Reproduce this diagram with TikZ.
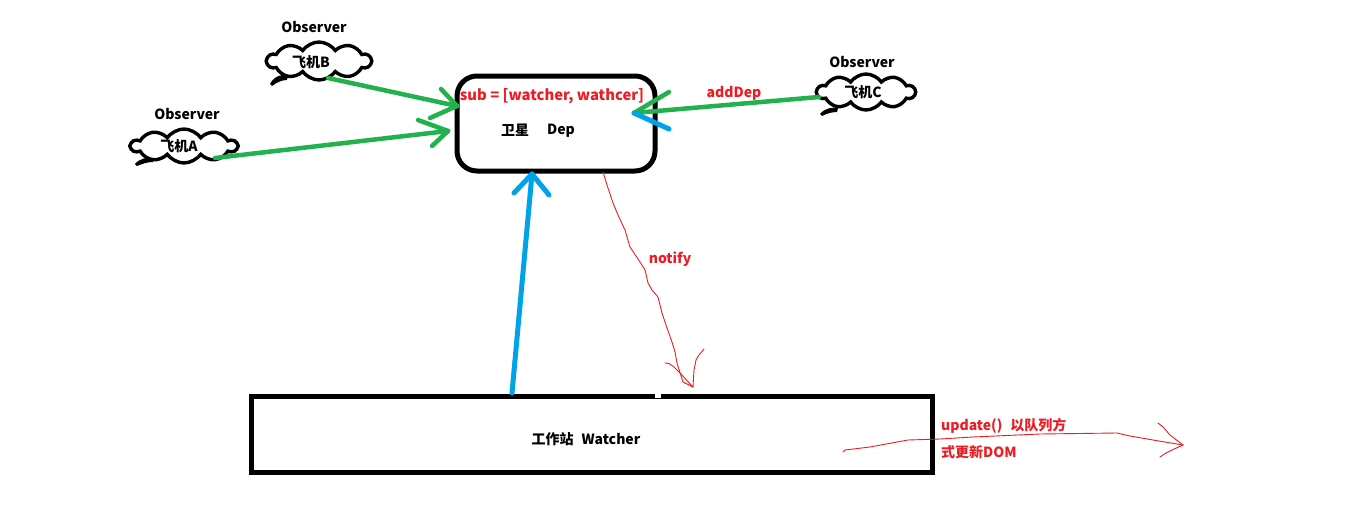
\documentclass[tikz,border=0pt]{standalone}
\usepackage{fontspec}
\setmainfont{Noto Sans CJK SC}
\usetikzlibrary{shapes.symbols,calc}
\definecolor{pgreen}{HTML}{22B14C}
\definecolor{pblue}{HTML}{00A2E8}
\definecolor{pred}{HTML}{ED1C24}
\tikzset{
  lbl/.style={font=\fontsize{14}{16}\selectfont\bfseries, inner sep=0pt},
  rlbl/.style={lbl, text=pred},
  cloudbox/.style={cloud, cloud puffs=10, cloud puff arc=110, aspect=2.6, draw=black, line width=3.4pt, inner sep=0pt},
  box/.style={draw=black, line width=5pt, inner sep=0pt},
  garrow/.style={draw=pgreen, line width=4.5pt, line cap=round},
  barrow/.style={draw=pblue, line width=5pt, line cap=round},
  thinred/.style={draw=pred, line width=0.9pt, line cap=round, line join=round}
}
\begin{document}
\begin{tikzpicture}[x=1pt,y=-1pt]
\useasboundingbox[fill=white] (0,0) rectangle (1360,514);

% boxes
\node[box, rounded corners=20pt, minimum width=198pt, minimum height=95pt] (dep) at (556,123.5) {};
\node[box, minimum width=681pt, minimum height=76pt] (watcher) at (591.5,434) {};
\fill[white] (655,392) rectangle (661,398);

% texts in boxes
\node[rlbl, font=\fontsize{14.8}{16}\selectfont\bfseries] (sub) at (552,96) {sub = [watcher, wathcer]};
\node[lbl] (sat) at (515,130) {卫星};
\node[lbl] (deplbl) at (561,131) {Dep};
\node[lbl] (wlbl) at (586,439) {工作站\hspace{8pt}Watcher};

% clouds
\node[cloudbox, minimum width=104pt, minimum height=38pt] (cb) at (319,61) {};
\node[cloudbox, minimum width=106pt, minimum height=34pt] (ca) at (184,146) {};
\node[cloudbox, minimum width=98pt, minimum height=36pt] (cc) at (866,92) {};
\node[lbl] (tb) at (311,62) {飞机B};
\node[lbl] (ta) at (179,146) {飞机A};
\node[lbl] (tc) at (863,92) {飞机C};
\fill[black] (270,84) .. controls (274,76) and (282,74) .. (288,75) -- (287,80) .. controls (281,80) and (276,83) .. (272,86) -- cycle;
\fill[black] (135,164) .. controls (140,158) and (148,157) .. (154,158) -- (153,162) .. controls (147,162) and (142,164) .. (137,166) -- cycle;
\fill[black] (820,114) .. controls (825,108) and (832,107) .. (838,108) -- (837,112) .. controls (831,112) and (826,114) .. (822,116) -- cycle;
\node[lbl] (obsB) at (314,27) {Observer};
\node[lbl] (obsA) at (187,114) {Observer};
\node[lbl] (obsC) at (862,62) {Observer};

% connector end points
\coordinate (bS) at (328,78);
\coordinate (bT) at (457,106);
\coordinate (aS) at (215,158);
\coordinate (aT) at (448,131);
\coordinate (cS) at (819,97);
\coordinate (cT) at (634,113);
\coordinate (wS) at (512,393);
\coordinate (dT) at (532,174);

% green arrows
\draw[garrow] (bS) -- (bT);
\draw[garrow] (bT) -- (441,89);
\draw[garrow] (bT) -- (430,118);
\draw[garrow] (aS) -- (aT);
\draw[garrow] (aT) -- (418,120);
\draw[garrow] (aT) -- (432,146);
\draw[garrow] (cS) -- (cT);
\draw[garrow] (cT) -- (669,92);
\draw[barrow] (cT) -- (669,129);
\node[rlbl] (adddep) at (734,93) {addDep};

% blue arrow
\draw[barrow] (wS) -- (dT);
\draw[barrow] (dT) -- (514,193);
\draw[barrow] (dT) -- (549,195);

% notify
\coordinate (nS) at (603,172);
\coordinate (nT) at (693,387);
\draw[thinred] (nS) -- (607,185) -- (613,203) -- (618,215) -- (625,230) -- (630,247) -- (640,262) -- (645,270) -- (648,283) -- (652,290) -- (658,297) -- (662,313) -- (666,325) -- (672,342) -- (675,352) -- (677,363) -- (683,382) -- (nT);
\draw[thinred] (665,363) .. controls (670,362) and (675,368) .. (681,374) -- (nT);
\draw[thinred] (nT) -- (694,370) -- (696,360) .. controls (698,355) and (702,352) .. (704,349);
\node[rlbl] (notify) at (670,259) {notify};

% update arrow
\coordinate (uS) at (843,452);
\coordinate (uT) at (1183,445);
\draw[thinred] (uS) -- (845,450) -- (870,447) -- (908,440) -- (940,439) -- (973,437) -- (1040,434) -- (1117,433) -- (1130,436) -- (1153,440) -- (uT);
\draw[thinred] (1158,423) -- (1163,427) -- (1170,435) -- (uT);
\draw[thinred] (uT) -- (1172,450) -- (1166,453) -- (1160,457);
\node[rlbl, anchor=west] (upd) at (941,426) {update()\hspace{8pt}以队列方};
\node[rlbl, anchor=west] (upd2) at (941,452) {式更新DOM};
\end{tikzpicture}
\end{document}
